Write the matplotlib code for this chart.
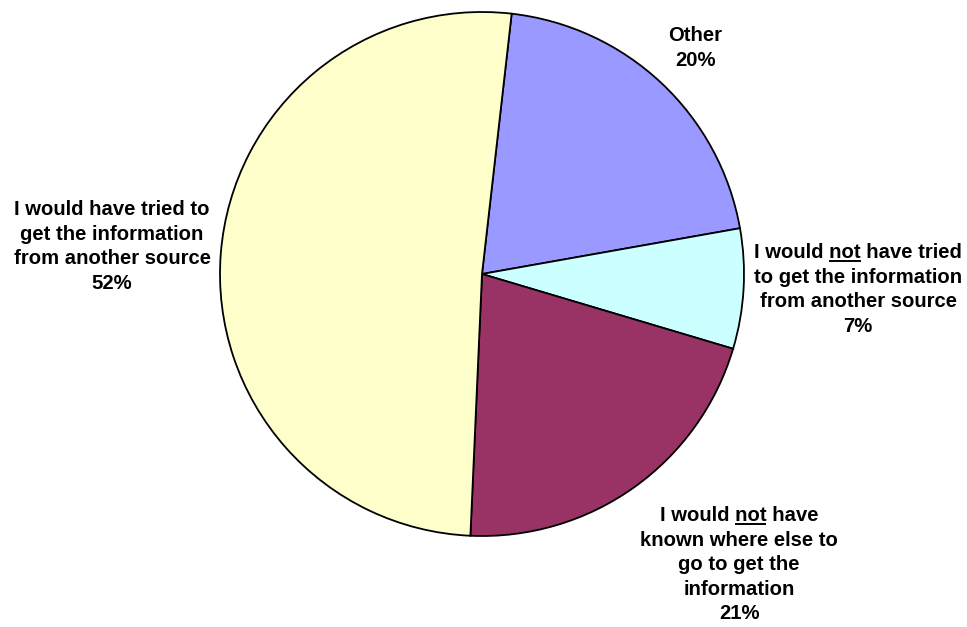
import matplotlib
matplotlib.use('Agg')
import matplotlib.pyplot as plt
from matplotlib.font_manager import FontProperties

# slice data (clockwise from the top)
labels = [
    "Other",
    "I would not have tried\nto get the information\nfrom another source",
    "I would not have\nknown where else to\ngo to get the\ninformation",
    "I would have tried to\nget the information\nfrom another source",
]
shares = [20.4, 7.4, 21.1, 51.1]
pct_text = ["20%", "7%", "21%", "52%"]
colors = ['#9999FF', '#CCFFFF', '#993366', '#FFFFCC']

W, H = 967, 627
# label anchor: (center x, baseline of first line), pixels from top-left
label_pos = [(695, 41), (858, 258), (739, 521), (112, 215)]
line_step = 24.6
font_size = 14.6

fig = plt.figure(figsize=(W / 100, H / 100), dpi=100)
ax = fig.add_axes([0, 0, 1, 1])

ax.pie(shares, colors=colors, startangle=83.5, counterclock=False,
       center=(482, H - 274), radius=262, frame=False,
       wedgeprops=dict(edgecolor='black', linewidth=1.3))
ax.set_xlim(0, W)
ax.set_ylim(0, H)
ax.set_aspect('equal')
ax.axis('off')

prop = FontProperties(family='Liberation Sans', weight='bold', size=font_size)
renderer = fig.canvas.get_renderer()


def text_width(s):
    return renderer.get_text_width_height_descent(s, prop, ismath=False)[0]


for lab, pct, (x, y0) in zip(labels, pct_text, label_pos):
    lines = lab.split('\n') + [pct]
    for i, line in enumerate(lines):
        y = y0 + i * line_step
        ax.text(x, H - y, line, ha='center', va='baseline', fontproperties=prop, color='black')
        # underline the word "not"
        if ' not ' in line:
            pre = line[:line.index(' not ') + 5].rstrip()
            left = x - text_width(line) / 2
            x1 = left + text_width(pre)
            x0 = x1 - text_width('not')
            ax.plot([x0, x1], [H - y - 3, H - y - 3], color='black', lw=1.4,
                    solid_capstyle='butt')

fig.savefig('out.png', dpi=100)
